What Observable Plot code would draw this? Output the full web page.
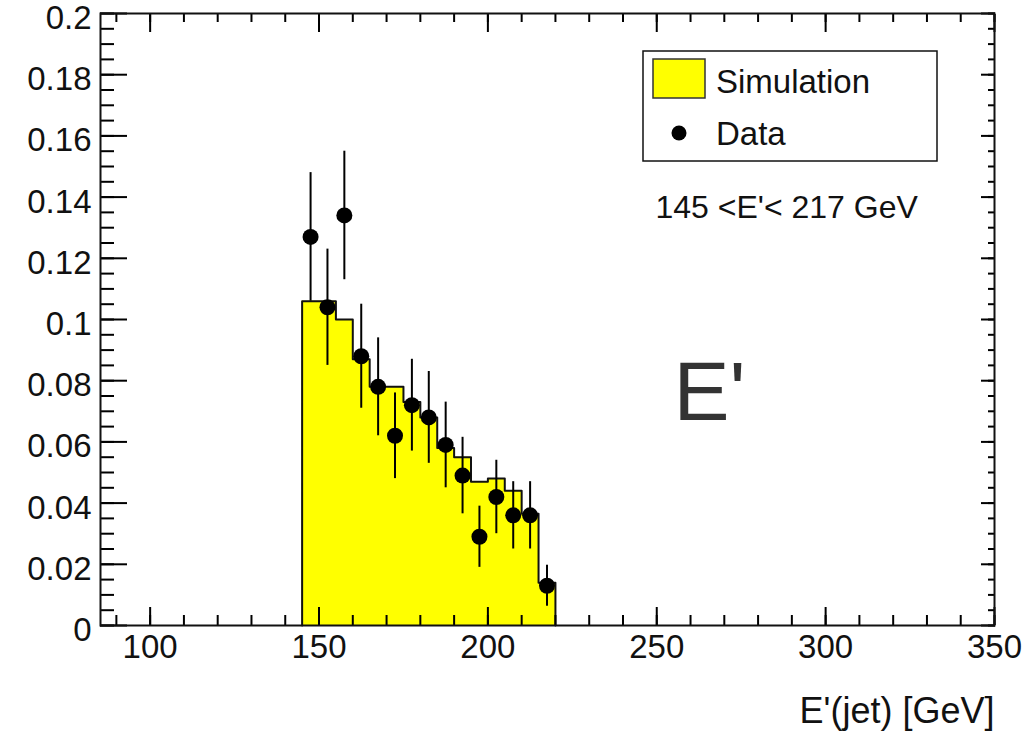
<!DOCTYPE html>
<html>
<head>
<meta charset="utf-8">
<script src="https://cdn.jsdelivr.net/npm/d3@7"></script>
<script src="https://cdn.jsdelivr.net/npm/@observablehq/plot@0.6"></script>
<style>
  body { margin: 0; background: #fff; }
  #chart svg { font-family: "Liberation Sans", Arial, Helvetica, sans-serif; }
</style>
</head>
<body>
<div id="chart"></div>
<script>
// Histogram bins (lower edges, GeV) and the simulated, normalised distribution
const binLow = [145, 150, 155, 160, 165, 170, 175, 180, 185, 190, 195, 200, 205, 210, 215];
const binWidth = 5;
const simulation = [0.106, 0.106, 0.100, 0.087, 0.078, 0.078, 0.073, 0.068, 0.058, 0.055, 0.047, 0.048, 0.044, 0.0365, 0.014];

// Measured points: bin centres, values and statistical errors
const dataCenter = [147.5, 152.5, 157.5, 162.5, 167.5, 172.5, 177.5, 182.5, 187.5, 192.5, 197.5, 202.5, 207.5, 212.5, 217.5];
const dataValue = [0.127, 0.104, 0.134, 0.088, 0.078, 0.062, 0.072, 0.068, 0.059, 0.049, 0.029, 0.042, 0.036, 0.036, 0.013];
const dataError = [0.021, 0.019, 0.021, 0.017, 0.016, 0.014, 0.015, 0.015, 0.014, 0.0125, 0.010, 0.012, 0.011, 0.011, 0.0067];

// Axes
const xMajor = [100, 150, 200, 250, 300, 350];
const xMinor = d3.range(90, 351, 10);
const yMajor = [0, 0.02, 0.04, 0.06, 0.08, 0.1, 0.12, 0.14, 0.16, 0.18, 0.2];
const yMinor = d3.range(0, 0.2001, 0.005);
const xTitle = "E'(jet) [GeV]";
const rangeText = "145 <E'< 217 GeV";
const bigLabel = "E'";
const legendLabels = ["Simulation", "Data"];

const bins = binLow.map((x1, i) => ({x1, x2: x1 + binWidth, y: simulation[i]}));
// Outline of the histogram (step-after through the bin edges)
const outline = [{x: binLow[0], y: 0}]
  .concat(bins.map(b => ({x: b.x1, y: b.y})))
  .concat([{x: bins[bins.length - 1].x2, y: 0}]);
const points = dataCenter.map((x, i) => ({x, y: dataValue[i], lo: dataValue[i] - dataError[i], hi: dataValue[i] + dataError[i]}));

const fmtY = d => String(+d.toFixed(3));
const FONT = 33;

// Legend box with a filled swatch and a marker sample
function legend(index, scales, values, dims) {
  const right = dims.width - dims.marginRight - 57;
  const top = dims.marginTop + 38;
  const w = 294, h = 110;
  const left = right - w;
  const g = d3.create("svg:g").attr("text-anchor", "start");
  g.append("rect").attr("x", left).attr("y", top).attr("width", w).attr("height", h)
    .attr("fill", "white").attr("stroke", "#111").attr("stroke-width", 1.5);
  g.append("rect").attr("x", left + 10).attr("y", top + 8).attr("width", 52).attr("height", 39)
    .attr("fill", "#ffff00").attr("stroke", "#333").attr("stroke-width", 1.5);
  g.append("circle").attr("cx", left + 36).attr("cy", top + 82).attr("r", 7.5).attr("fill", "#000");
  g.append("text").attr("x", left + 73).attr("y", top + 42).attr("font-size", FONT).attr("fill", "#111").text(legendLabels[0]);
  g.append("text").attr("x", left + 73).attr("y", top + 94).attr("font-size", FONT).attr("fill", "#111").text(legendLabels[1]);
  return g.node();
}

// inward tick marks only (no labels)
const tickX = (anchor, ticks, size) => Plot.axisX({anchor, ticks, tickSize: -size, text: null, label: null, strokeWidth: 2});
const tickY = (anchor, ticks, size) => Plot.axisY({anchor, ticks, tickSize: -size, text: null, label: null, strokeWidth: 2});

const chart = Plot.plot({
  width: 1029,
  height: 734,
  marginLeft: 100,
  marginRight: 35,
  marginTop: 13,
  marginBottom: 109,
  x: {domain: [85.3, 350]},
  y: {domain: [0, 0.2]},
  marks: [
    Plot.areaY(outline, {x: "x", y: "y", curve: "step-after", fill: "#ffff00"}),
    Plot.line(outline, {x: "x", y: "y", curve: "step-after", stroke: "#111", strokeWidth: 2}),
    Plot.ruleX(points, {x: "x", y1: "lo", y2: "hi", stroke: "#000", strokeWidth: 2}),
    Plot.dot(points, {x: "x", y: "y", r: 8, fill: "#000", stroke: "none"}),
    tickX("bottom", xMajor, 18),
    tickX("bottom", xMinor, 10),
    tickX("top", xMajor, 18),
    tickX("top", xMinor, 8),
    tickY("left", yMajor, 27),
    tickY("left", yMinor, 14),
    tickY("right", yMajor, 14),
    tickY("right", yMinor, 7),
    // tick labels
    Plot.axisX({anchor: "bottom", ticks: xMajor, tickSize: 0, tickPadding: 9, fontSize: FONT, fill: "#111", label: null}),
    Plot.axisY({anchor: "left", ticks: yMajor, tickSize: 0, tickPadding: 9, dy: 5, fontSize: FONT, fill: "#111", tickFormat: fmtY, label: null}),
    Plot.frame({stroke: "#111", strokeWidth: 2}),
    legend,
    Plot.text([rangeText], {frameAnchor: "top-left", dx: 555, dy: 204, text: d => d, textAnchor: "start", lineAnchor: "bottom", fontSize: 32, fill: "#111"}),
    Plot.text([bigLabel], {frameAnchor: "top-left", dx: 573, dy: 406, text: d => d, textAnchor: "start", lineAnchor: "bottom", fontSize: 84, fill: "#333"}),
    Plot.text([xTitle], {frameAnchor: "bottom-right", dx: 0, dy: 97, text: d => d, textAnchor: "end", lineAnchor: "bottom", fontSize: 36, fill: "#111"})
  ]
});
document.getElementById("chart").appendChild(chart);
</script>
</body>
</html>
